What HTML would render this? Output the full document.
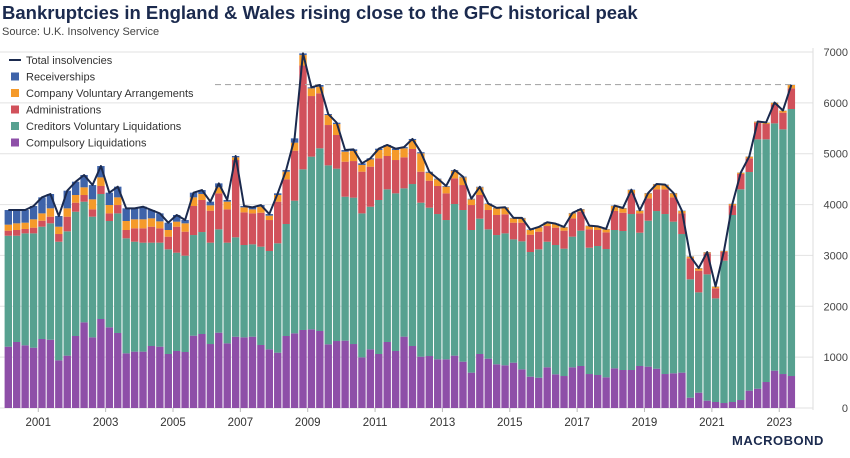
<!DOCTYPE html>
<html><head><meta charset="utf-8"><style>
body{margin:0;background:#fff;font-family:"Liberation Sans",sans-serif}
</style></head><body>
<svg id="c" width="850" height="453" xmlns="http://www.w3.org/2000/svg">
<text x="2" y="19" font-size="18.5" font-weight="bold" fill="#1b2a4e">Bankruptcies in England &amp; Wales rising close to the GFC historical peak</text>
<text x="2" y="35" font-size="11" fill="#444">Source: U.K. Insolvency Service</text>
<g id="grid"></g><g id="bars"></g><g id="line"></g><g id="axes"></g><g id="legend"></g>
<g><text x="732" y="445" font-size="13" font-weight="bold" fill="#1b2a4e" letter-spacing="0.5">MACROBOND</text></g>
</svg>
<script>
const years=[2001,2003,2005,2007,2009,2011,2013,2015,2017,2019,2021,2023];
const yTicks=[0,1000,2000,3000,4000,5000,6000,7000];
const compulsory=[1206,1298,1232,1186,1357,1343,937,1029,1416,1684,1389,1750,1586,1475,1075,1108,1108,1219,1206,1062,1121,1101,1422,1455,1258,1481,1271,1402,1389,1402,1239,1153,1088,1416,1468,1534,1547,1514,1252,1317,1324,1258,996,1153,1062,1298,1121,1403,1219,1009,1022,957,957,1029,911,695,1062,970,859,839,891,760,616,596,800,662,629,800,826,668,649,603,780,747,747,826,813,773,668,682,695,203,301,144,118,98,118,157,341,380,511,734,668,629];
const cvl=[2182,2090,2202,2248,2208,2288,2333,2445,2444,2373,2373,2458,2091,2352,2261,2162,2143,2032,2045,2058,1933,1894,1979,2005,1993,2032,1980,1954,1816,1816,1933,1934,2150,2202,2609,3159,3395,3592,3519,3389,2831,2878,2831,2805,3028,3002,3100,2916,3185,3028,2917,2857,2739,2982,2982,2805,2661,2543,2542,2595,2425,2517,2451,2524,2470,2543,2504,2569,2661,2484,2536,2523,2720,2733,3067,2621,2870,3100,3146,2982,2726,2327,1973,2484,2038,2799,3677,4143,4299,4903,4772,4863,4811,5250];
const admin=[99,112,86,112,118,131,151,288,177,131,144,157,150,164,164,263,282,314,282,249,511,472,571,630,629,708,655,1520,642,609,668,609,819,878,982,2041,1192,1081,793,662,688,720,820,787,819,655,655,610,689,609,531,551,525,505,491,491,465,380,394,374,328,367,341,347,308,341,354,360,373,361,315,328,374,360,407,380,439,426,485,478,406,413,426,413,197,177,190,301,269,327,301,373,328,406];
const cva=[118,131,124,164,144,164,144,164,151,151,197,170,164,151,177,177,177,164,137,131,99,164,170,118,105,118,151,53,98,79,118,86,131,151,158,206,151,131,196,216,197,197,131,144,164,197,197,177,176,361,157,131,131,150,151,112,151,118,131,131,85,85,92,85,66,72,65,98,46,65,65,59,98,86,65,53,99,99,86,79,46,33,46,20,33,13,26,26,33,20,26,33,39,66];
const receiverships=[288,262,249,262,315,282,210,347,262,242,281,223,243,210,249,216,248,164,157,144,131,66,92,78,72,78,33,26,27,39,33,32,33,33,85,33,20,33,20,26,33,33,33,20,26,20,26,24,21,23,18,14,13,14,15,12,11,9,9,9,9,9,8,8,8,7,8,8,7,7,7,7,8,7,7,7,7,7,7,7,7,6,6,5,4,4,4,4,4,4,4,4,4,4];
const seriesNames=["Compulsory Liquidations","Creditors Voluntary Liquidations","Administrations","Company Voluntary Arrangements","Receiverships"];
const colors=["#8e4fa8","#57a190","#d1515b","#f59a2a","#3e63a9"];
const series=[compulsory,cvl,admin,cva,receiverships];
const NS="http://www.w3.org/2000/svg";
const X0=4.6,P=8.42,BW=7.4,YB=408,YT=52,VMAX=7000;
const xq=i=>X0+P*i;
const y=v=>YB-(v/VMAX)*(YB-YT);
function mk(t,a,p){const e=document.createElementNS(NS,t);for(const k in a)e.setAttribute(k,a[k]);p.appendChild(e);return e;}
const G=document.getElementById('grid'),B=document.getElementById('bars'),L=document.getElementById('line'),A=document.getElementById('axes'),LG=document.getElementById('legend');
yTicks.forEach(v=>{
 const g=mk('line',{x1:0,x2:813,y1:y(v),y2:y(v),stroke:'#e2e2e2','stroke-width':1},G);
 
 
 const t=mk('text',{x:848,y:y(v)+4,'font-size':11,fill:'#444','text-anchor':'end'},A);t.textContent=v;
 
 
});
mk('line',{x1:813,x2:813,y1:48,y2:410,stroke:'#ddd'},A);
years.forEach(yr=>{
 const xx=xq((yr-2000)*4);
 mk('line',{x1:xx,x2:xx,y1:408,y2:412,stroke:'#bbb'},A);
 const t=mk('text',{x:xx,y:426,'font-size':11.5,fill:'#333','text-anchor':'middle'},A);t.textContent=yr;
 
 
});
const n=compulsory.length;const totals=[];
for(let i=0;i<n;i++){
 let acc=0;
 series.forEach((s,k)=>{
  const r=mk('rect',{x:xq(i),y:y(acc+s[i]),width:BW,height:Math.max(0,y(acc)-y(acc+s[i])),fill:colors[k]},B);
  
  
  acc+=s[i];
 });
 totals.push(acc);
}
const dl=mk('line',{x1:215,x2:xq(n-1)+BW,y1:y(6360),y2:y(6360),stroke:'#aaa','stroke-dasharray':'6,4','stroke-width':1.2},L);


const pl=mk('polyline',{points:totals.map((t,i)=>(xq(i)+BW/2)+','+y(t)).join(' '),fill:'none',stroke:'#1b2a4e','stroke-width':2,'stroke-linejoin':'round'},L);


const leg=[["Total insolvencies",null]].concat(seriesNames.slice().reverse().map((s,i)=>[s,colors[4-i]]));
leg.forEach((e,i)=>{
 const yy=62+i*16.5;
 const g=mk('g',{},LG);
 
 
 if(e[1]) mk('rect',{x:11,y:yy-6,width:8,height:8,fill:e[1]},g);
 else mk('line',{x1:9,x2:21,y1:yy-2,y2:yy-2,stroke:'#1b2a4e','stroke-width':2},g);
 const t=mk('text',{x:26,y:yy+2,'font-size':11,fill:'#333'},g);t.textContent=e[0];
});
</script>
</body></html>
